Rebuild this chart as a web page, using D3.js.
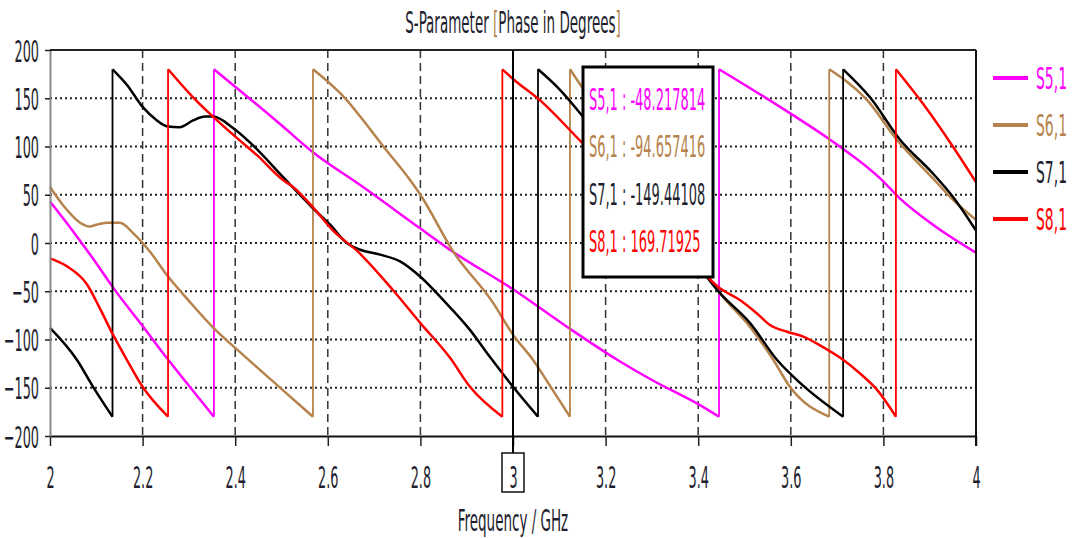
<!DOCTYPE html>
<html>
<head>
<meta charset="utf-8">
<script src="https://cdn.jsdelivr.net/npm/d3@7/dist/d3.min.js"></script>
<style>
	body { margin: 0; background: #fff; }
	text { font-family: "DejaVu Sans Condensed", "DejaVu Sans", sans-serif; }
</style>
</head>
<body>
<div id="chart"></div>
<script>
// phase curves, split at each -180/+180 wrap
var s51 = [
	[[2,43],[2.05,12],[2.1,-21],[2.136,-46],[2.2,-86],[2.252,-119],[2.3,-148],[2.354,-180]],
	[[2.354,180],[2.4,162],[2.5,122],[2.568,94],[2.67,60],[2.8,15],[2.87,-9],[3.0,-48],[3.117,-87],[3.225,-121],[3.3,-142],[3.4,-167],[3.445,-180]],
	[[3.445,180],[3.5,164],[3.603,133],[3.685,107],[3.793,67],[3.836,46],[3.907,19],[4.0,-10]]
];
var s61 = [
	[[2,58],[2.03,38],[2.065,21],[2.086,17],[2.1,19],[2.123,21],[2.151,21],[2.18,10],[2.216,-9],[2.252,-33],[2.3,-60],[2.353,-88],[2.417,-116],[2.49,-147],[2.568,-180]],
	[[2.568,180],[2.641,148],[2.67,131],[2.72,100],[2.778,65],[2.8,50],[2.871,-9],[2.957,-62],[3.0,-95],[3.043,-121],[3.08,-148],[3.123,-180]],
	[[3.123,180],[3.2,125],[3.3,54],[3.38,-3],[3.447,-52],[3.512,-87],[3.562,-121],[3.598,-149],[3.683,-180]],
	[[3.683,180],[3.765,148],[3.829,107],[3.907,67],[3.95,45],[4.0,24]]
];
var s71 = [
	[[2,-88],[2.058,-121],[2.093,-149],[2.135,-180]],
	[[2.135,180],[2.166,164],[2.2,141],[2.231,127],[2.252,121],[2.28,120],[2.309,127],[2.335,131],[2.352,131],[2.396,119],[2.439,101],[2.504,68],[2.568,36],[2.605,19],[2.641,0],[2.67,-7],[2.713,-12],[2.756,-19],[2.8,-35],[2.849,-59],[2.907,-90],[2.95,-118],[3.0,-149],[3.054,-180]],
	[[3.054,180],[3.101,159],[3.151,131],[3.25,70],[3.35,9],[3.447,-52],[3.512,-83],[3.57,-121],[3.62,-145],[3.713,-180]],
	[[3.713,180],[3.771,151],[3.836,107],[3.907,72],[3.95,48],[4.0,13]]
];
var s81 = [
	[[2,-16],[2.036,-24],[2.08,-43],[2.108,-68],[2.136,-95],[2.166,-121],[2.2,-149],[2.255,-180]],
	[[2.255,180],[2.309,151],[2.352,131],[2.396,112],[2.447,91],[2.504,65],[2.525,58],[2.568,37],[2.611,13],[2.665,-9],[2.741,-49],[2.8,-83],[2.864,-119],[2.907,-149],[2.977,-180]],
	[[2.977,180],[3.0,170],[3.058,148],[3.149,104],[3.25,55],[3.35,4],[3.447,-47],[3.49,-59],[3.527,-73],[3.555,-85],[3.592,-92],[3.627,-97],[3.663,-106],[3.713,-121],[3.749,-135],[3.786,-152],[3.827,-180]],
	[[3.827,180],[3.886,144],[3.95,100],[4.0,63]]
];

var seriesNames = ["S5,1", "S6,1", "S7,1", "S8,1"];
var seriesColors = ["#ff00ff", "#b5834b", "#000000", "#ff0000"];
var seriesData = [s51, s61, s71, s81];

var xTicks = [2, 2.2, 2.4, 2.6, 2.8, 3, 3.2, 3.4, 3.6, 3.8, 4];
var yTicks = [-200, -150, -100, -50, 0, 50, 100, 150, 200];

var markerFreq = 3;
var markerValues = ["-48.217814", "-94.657416", "-149.44108", "169.71925"];

var width = 1074, height = 538;
var margin = {left: 50, right: 98, top: 50, bottom: 102};
var SX = 0.46; // the chart font is very narrow
var textColor = "#1e1e2e";

var svg = d3.select("#chart").append("svg")
	.attr("width", width)
	.attr("height", height)
	.style("background", "#fff");

var x = d3.scaleLinear().domain([2, 4]).range([margin.left, width - margin.right]);
var y = d3.scaleLinear().domain([-200, 200]).range([height - margin.bottom, margin.top]);

function narrowText(g, px, py, str, size, anchor, color, sx) {
	return g.append("text")
		.attr("transform", "translate(" + px + "," + py + ") scale(" + (sx || SX) + ",1)")
		.attr("font-size", size)
		.attr("text-anchor", anchor)
		.attr("fill", color)
		.text(str);
}

// grid
var grid = svg.append("g");
grid.selectAll(".hgrid")
	.data(yTicks.filter(function(d){ return d > -200 && d < 200; }))
	.enter().append("line")
	.attr("x1", x(2)).attr("x2", x(4))
	.attr("y1", function(d){ return y(d); }).attr("y2", function(d){ return y(d); })
	.attr("stroke", "#222").attr("stroke-width", 2)
	.attr("stroke-dasharray", "2,3");
grid.selectAll(".vgrid")
	.data(xTicks.filter(function(d){ return d > 2 && d < 4 && d != markerFreq; }))
	.enter().append("line")
	.attr("x1", function(d){ return x(d); }).attr("x2", function(d){ return x(d); })
	.attr("y1", y(200)).attr("y2", y(-200))
	.attr("stroke", "#333").attr("stroke-width", 1.5)
	.attr("stroke-dasharray", "8,5");

// curves
var line = d3.line()
	.x(function(d){ return x(d[0]); })
	.y(function(d){ return y(d[1]); })
	.curve(d3.curveMonotoneX);
var jump = d3.line()
	.x(function(d){ return x(d[0]); })
	.y(function(d){ return y(d[1]); });

var curves = svg.append("g");
seriesData.forEach(function(branches, i) {
	var g = curves.append("g");
	branches.forEach(function(b, j) {
		g.append("path")
			.attr("d", line(b))
			.attr("fill", "none")
			.attr("stroke", seriesColors[i])
			.attr("stroke-width", 2.5)
			.attr("stroke-linejoin", "round");
		if (j > 0) {
			var prev = branches[j - 1];
			g.append("path")
				.attr("d", jump([prev[prev.length - 1], b[0]]))
				.attr("fill", "none")
				.attr("stroke", seriesColors[i])
				.attr("stroke-width", 1.8);
		}
	});
});

// axes
var xAxis = svg.append("g")
	.attr("transform", "translate(0," + y(-200) + ")")
	.call(d3.axisBottom(x).tickValues(xTicks).tickSize(10).tickSizeOuter(0).tickFormat(d3.format("~g")));
xAxis.select(".domain").attr("stroke", "#111").attr("stroke-width", 2);
xAxis.selectAll(".tick line").attr("stroke", "#222").attr("stroke-width", 1.5);
xAxis.selectAll(".tick text")
	.attr("y", 52).attr("dy", null)
	.attr("font-size", 31)
	.attr("fill", textColor)
	.attr("transform", "scale(" + SX + ",1)");

var yAxis = svg.append("g")
	.attr("transform", "translate(" + x(2) + ",0)")
	.call(d3.axisLeft(y).tickValues(yTicks).tickSize(5).tickSizeOuter(0));
yAxis.select(".domain").attr("stroke", "#888").attr("stroke-width", 2);
yAxis.selectAll(".tick line").attr("stroke", "#222").attr("stroke-width", 1.5);
yAxis.selectAll(".tick text")
	.attr("x", -11 / SX).attr("dy", "0.36em")
	.attr("font-size", 31)
	.attr("fill", textColor)
	.attr("transform", "scale(" + SX + ",1)");

// top and right frame
svg.append("line")
	.attr("x1", x(2)).attr("x2", x(4)).attr("y1", y(200)).attr("y2", y(200))
	.attr("stroke", "#222").attr("stroke-width", 2);
svg.append("line")
	.attr("x1", x(4)).attr("x2", x(4)).attr("y1", y(200)).attr("y2", y(-200) + 10)
	.attr("stroke", "#111").attr("stroke-width", 2);

// marker at 3 GHz
svg.append("line")
	.attr("x1", x(markerFreq)).attr("x2", x(markerFreq))
	.attr("y1", y(200)).attr("y2", y(-200) + 17)
	.attr("stroke", "#000").attr("stroke-width", 2);
svg.append("rect")
	.attr("x", x(markerFreq) - 11).attr("y", y(-200) + 17)
	.attr("width", 22).attr("height", 39)
	.attr("fill", "none").attr("stroke", "#111").attr("stroke-width", 1.5);

// marker readout box
var box = svg.append("g");
box.append("rect")
	.attr("x", 583).attr("y", 67).attr("width", 130).attr("height", 210)
	.attr("fill", "#fff").attr("stroke", "#000").attr("stroke-width", 3);
seriesNames.forEach(function(name, i) {
	narrowText(box, 589, 110 + i * 47.3, name + " : " + markerValues[i], 31, "start",
		seriesColors[i] == "#000000" ? textColor : seriesColors[i], 0.465);
});

// legend
var legend = svg.append("g");
seriesNames.forEach(function(name, i) {
	var ly = 78 + i * 47;
	legend.append("line")
		.attr("x1", 993).attr("x2", 1028).attr("y1", ly).attr("y2", ly)
		.attr("stroke", seriesColors[i]).attr("stroke-width", 4);
	narrowText(legend, 1036, ly + 11, name, 31, "start",
		seriesColors[i] == "#000000" ? textColor : seriesColors[i], 0.5);
});

// titles
var title = svg.append("text")
	.attr("transform", "translate(" + x(3) + ",33) scale(0.5,1)")
	.attr("font-size", 30)
	.attr("text-anchor", "middle")
	.attr("fill", textColor);
title.append("tspan").text("S-Parameter ");
title.append("tspan").attr("fill", "#b5834b").text("[");
title.append("tspan").text("Phase in Degrees");
title.append("tspan").attr("fill", "#b5834b").text("]");

narrowText(svg, x(3), 531, "Frequency / GHz", 30, "middle", textColor, 0.5);
</script>
</body>
</html>
